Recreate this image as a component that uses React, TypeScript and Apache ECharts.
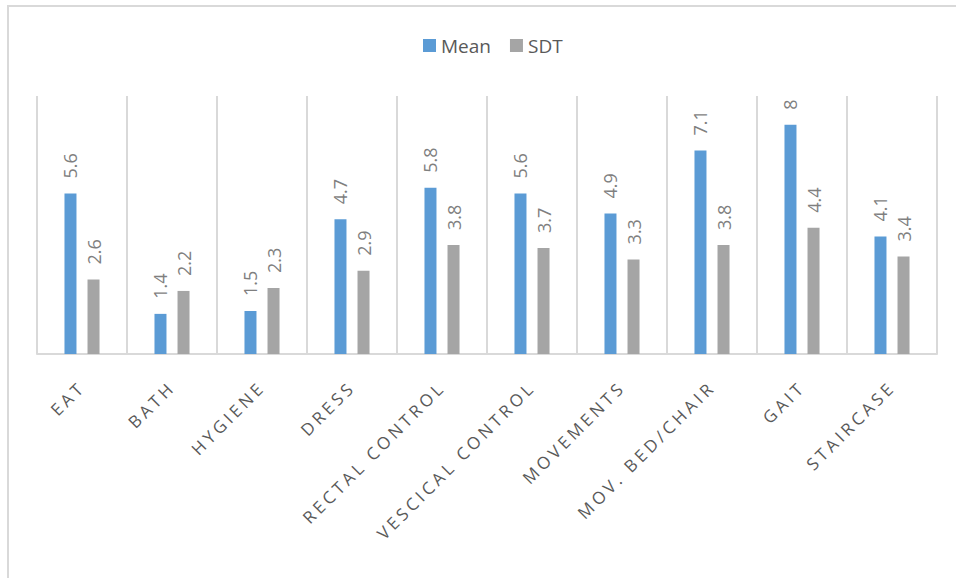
import React, { useEffect, useRef } from "react";
import * as echarts from "echarts";

const categories = [
  "EAT",
  "BATH",
  "HYGIENE",
  "DRESS",
  "RECTAL CONTROL",
  "VESCICAL CONTROL",
  "MOVEMENTS",
  "MOV. BED/CHAIR",
  "GAIT",
  "STAIRCASE",
];
const meanValues = [5.6, 1.4, 1.5, 4.7, 5.8, 5.6, 4.9, 7.1, 8, 4.1];
const sdtValues = [2.6, 2.2, 2.3, 2.9, 3.8, 3.7, 3.3, 3.8, 4.4, 3.4];

const FONT = "'Open Sans', 'Noto Sans', sans-serif";

export default function App() {
  const ref = useRef<HTMLDivElement>(null);

  useEffect(() => {
    if (!ref.current) return;
    const chart = echarts.init(ref.current, undefined, { renderer: "svg" });
    const dataLabel = {
      show: true,
      position: "top",
      rotate: 90,
      align: "left",
      verticalAlign: "middle",
      distance: 15,
      color: "#7f7f7f",
      fontSize: 18,
      fontFamily: FONT,
    };
    chart.setOption({
      animation: false,
      backgroundColor: "#ffffff",
      textStyle: { fontFamily: FONT },
      graphic: [
        {
          type: "rect",
          shape: { x: 8, y: 6, width: 1200, height: 1200 },
          style: { fill: "none", stroke: "#d9d9d9", lineWidth: 2 },
          silent: true,
        },
      ],
      legend: {
        data: ["Mean", "SDT"],
        left: 418,
        top: 31,
        itemWidth: 13,
        itemHeight: 13,
        itemGap: 19,
        icon: "rect",
        textStyle: { color: "#595959", fontSize: 19, fontFamily: FONT },
      },
      grid: { left: 37, right: 19, top: 96, bottom: 224, containLabel: false },
      xAxis: {
        type: "category",
        data: categories,
        axisLine: { show: true, lineStyle: { color: "#d9d9d9", width: 2 } },
        axisTick: { show: false },
        splitLine: { show: true, interval: 0, lineStyle: { color: "#d9d9d9", width: 2 } },
        axisLabel: {
          interval: 0,
          rotate: 45,
          margin: 30,
          color: "#595959",
          fontSize: 17,
          fontFamily: FONT,
        },
      },
      yAxis: {
        type: "value",
        min: 0,
        max: 9,
        show: false,
        splitLine: { show: false },
      },
      series: [
        {
          name: "Mean",
          type: "bar",
          data: meanValues,
          barWidth: 12,
          barGap: "92%",
          itemStyle: { color: "#5b9bd5" },
          label: dataLabel,
        },
        {
          name: "SDT",
          type: "bar",
          data: sdtValues,
          barWidth: 12,
          barGap: "92%",
          itemStyle: { color: "#a5a5a5" },
          label: dataLabel,
        },
      ],
    });
    return () => chart.dispose();
  }, []);

  return (
    <>
      <style>{`.xchart text[transform*="0.707"] { letter-spacing: 3.6px; }`}</style>
      <div
        ref={ref}
        className="xchart"
        style={{ position: "fixed", left: 0, top: 0, width: 956, height: 578, background: "#fff" }}
      />
    </>
  );
}
